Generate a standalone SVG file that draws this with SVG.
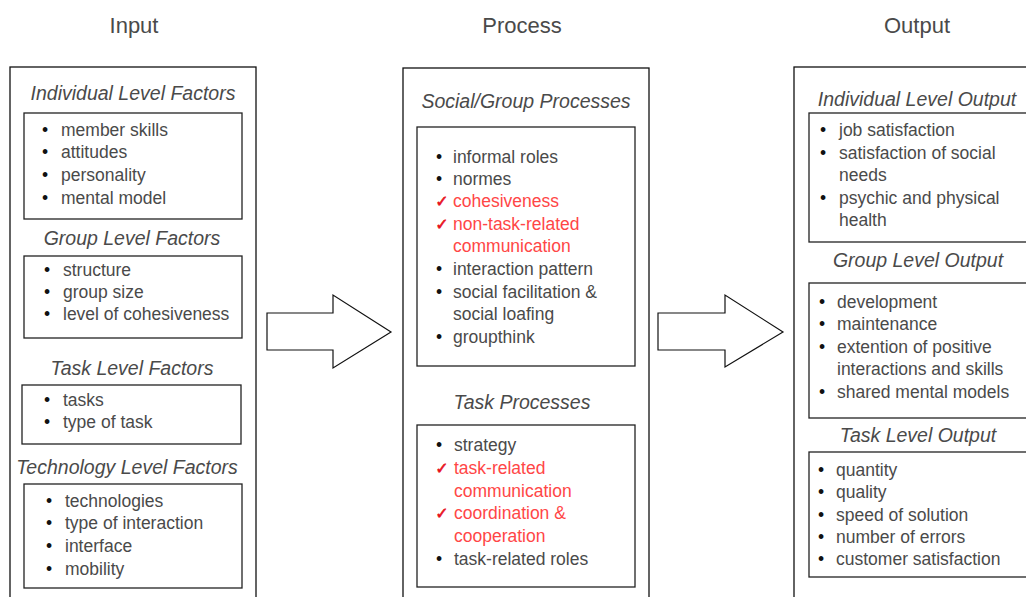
<svg xmlns="http://www.w3.org/2000/svg" width="1026" height="597" viewBox="0 0 1026 597">
  <style>
    .title { font-family: "Liberation Sans", Arial, sans-serif; font-size: 22px; fill: #4a4a4a; text-anchor: middle; }
    .head { font-family: "Liberation Sans", Arial, sans-serif; font-size: 19.5px; font-style: italic; fill: #4a4a4a; text-anchor: middle; }
    .item { font-family: "Liberation Sans", Arial, sans-serif; font-size: 17.5px; fill: #4a4a4a; }
    .red { fill: #ff4646; }
    .bul { font-family: "Liberation Sans", Arial, sans-serif; font-size: 17.5px; fill: #111; text-anchor: middle; }
    .chk { font-family: "DejaVu Sans", sans-serif; font-size: 16px; fill: #e8101c; stroke: #e8101c; stroke-width: 0.6; text-anchor: middle; }
    .outer { fill: #fff; stroke: #111; stroke-width: 1.3; }
    .inner { fill: #fff; stroke: #222; stroke-width: 1.3; }
    .arrow { fill: #fff; stroke: #111; stroke-width: 1.2; stroke-linejoin: miter; }
  </style>
  <rect width="1026" height="597" fill="#fff"/>

  <!-- column titles -->
  <g id="titles">
    <text class="title" x="134" y="33">Input</text>
    <text class="title" x="522" y="33">Process</text>
    <text class="title" x="917" y="33">Output</text>
  </g>

  <!-- Input column -->
  <g id="input">
    <rect class="outer" x="10" y="67" width="246" height="540"/>
    <text class="head" x="133" y="100">Individual Level Factors</text>
    <rect class="inner" x="24" y="113" width="218" height="106"/>
    <g>
      <text class="bul" x="45" y="136">•</text><text class="item" x="61" y="136">member skills</text>
      <text class="bul" x="45" y="158">•</text><text class="item" x="61" y="158">attitudes</text>
      <text class="bul" x="45" y="181">•</text><text class="item" x="61" y="181">personality</text>
      <text class="bul" x="45" y="204">•</text><text class="item" x="61" y="204">mental model</text>
    </g>
    <text class="head" x="132" y="245">Group Level Factors</text>
    <rect class="inner" x="24" y="256" width="218" height="82"/>
    <g>
      <text class="bul" x="47" y="276">•</text><text class="item" x="63" y="276">structure</text>
      <text class="bul" x="47" y="298">•</text><text class="item" x="63" y="298">group size</text>
      <text class="bul" x="47" y="320">•</text><text class="item" x="63" y="320">level of cohesiveness</text>
    </g>
    <text class="head" x="132" y="375">Task Level Factors</text>
    <rect class="inner" x="22" y="385" width="219" height="59"/>
    <g>
      <text class="bul" x="47" y="406">•</text><text class="item" x="63" y="406">tasks</text>
      <text class="bul" x="47" y="428">•</text><text class="item" x="63" y="428">type of task</text>
    </g>
    <text class="head" x="127" y="474">Technology Level Factors</text>
    <rect class="inner" x="24" y="484" width="218" height="104"/>
    <g>
      <text class="bul" x="49" y="507">•</text><text class="item" x="65" y="507">technologies</text>
      <text class="bul" x="49" y="529">•</text><text class="item" x="65" y="529">type of interaction</text>
      <text class="bul" x="49" y="552">•</text><text class="item" x="65" y="552">interface</text>
      <text class="bul" x="49" y="575">•</text><text class="item" x="65" y="575">mobility</text>
    </g>
  </g>

  <!-- Process column -->
  <g id="process">
    <rect class="outer" x="403" y="68" width="246" height="540"/>
    <text class="head" x="526" y="108">Social/Group Processes</text>
    <rect class="inner" x="417" y="127" width="218" height="239"/>
    <g>
      <text class="bul" x="439" y="163">•</text><text class="item" x="453" y="163">informal roles</text>
      <text class="bul" x="439" y="185">•</text><text class="item" x="453" y="185">normes</text>
      <text class="chk" x="442" y="207">✓</text><text class="item red" x="453" y="207">cohesiveness</text>
      <text class="chk" x="442" y="230">✓</text><text class="item red" x="453" y="230">non-task-related</text>
      <text class="item red" x="453" y="252">communication</text>
      <text class="bul" x="439" y="275">•</text><text class="item" x="453" y="275">interaction pattern</text>
      <text class="bul" x="439" y="298">•</text><text class="item" x="453" y="298">social facilitation &amp;</text>
      <text class="item" x="453" y="320">social loafing</text>
      <text class="bul" x="439" y="343">•</text><text class="item" x="453" y="343">groupthink</text>
    </g>
    <text class="head" x="522" y="409">Task Processes</text>
    <rect class="inner" x="417" y="425" width="218" height="162"/>
    <g>
      <text class="bul" x="439" y="451">•</text><text class="item" x="454" y="451">strategy</text>
      <text class="chk" x="442" y="474">✓</text><text class="item red" x="454" y="474">task-related</text>
      <text class="item red" x="454" y="497">communication</text>
      <text class="chk" x="442" y="519">✓</text><text class="item red" x="454" y="519">coordination &amp;</text>
      <text class="item red" x="454" y="542">cooperation</text>
      <text class="bul" x="439" y="565">•</text><text class="item" x="454" y="565">task-related roles</text>
    </g>
  </g>

  <!-- Output column -->
  <g id="output">
    <rect class="outer" x="794" y="67" width="260" height="540"/>
    <text class="head" x="917" y="106">Individual Level Output</text>
    <rect class="inner" x="809" y="113" width="240" height="129"/>
    <g>
      <text class="bul" x="823" y="136">•</text><text class="item" x="839" y="136">job satisfaction</text>
      <text class="bul" x="823" y="159">•</text><text class="item" x="839" y="159">satisfaction of social</text>
      <text class="item" x="839" y="181">needs</text>
      <text class="bul" x="823" y="204">•</text><text class="item" x="839" y="204">psychic and physical</text>
      <text class="item" x="839" y="226">health</text>
    </g>
    <text class="head" x="918" y="267">Group Level Output</text>
    <rect class="inner" x="809" y="283" width="240" height="135"/>
    <g>
      <text class="bul" x="822" y="308">•</text><text class="item" x="837" y="308">development</text>
      <text class="bul" x="822" y="330">•</text><text class="item" x="837" y="330">maintenance</text>
      <text class="bul" x="822" y="353">•</text><text class="item" x="837" y="353">extention of positive</text>
      <text class="item" x="837" y="375">interactions and skills</text>
      <text class="bul" x="822" y="398">•</text><text class="item" x="837" y="398">shared mental models</text>
    </g>
    <text class="head" x="918" y="442">Task Level Output</text>
    <rect class="inner" x="809" y="452" width="240" height="125"/>
    <g>
      <text class="bul" x="821" y="476">•</text><text class="item" x="836" y="476">quantity</text>
      <text class="bul" x="821" y="498">•</text><text class="item" x="836" y="498">quality</text>
      <text class="bul" x="821" y="521">•</text><text class="item" x="836" y="521">speed of solution</text>
      <text class="bul" x="821" y="543">•</text><text class="item" x="836" y="543">number of errors</text>
      <text class="bul" x="821" y="565">•</text><text class="item" x="836" y="565">customer satisfaction</text>
    </g>
  </g>

  <!-- block arrows between columns -->
  <g id="connectors">
    <polygon class="arrow" points="267,313 333,313 333,295 391,332 333,368 333,350 267,350"/>
    <polygon class="arrow" points="658,313 725,313 725,295 783,332 725,367 725,350 658,350"/>
  </g>
</svg>
